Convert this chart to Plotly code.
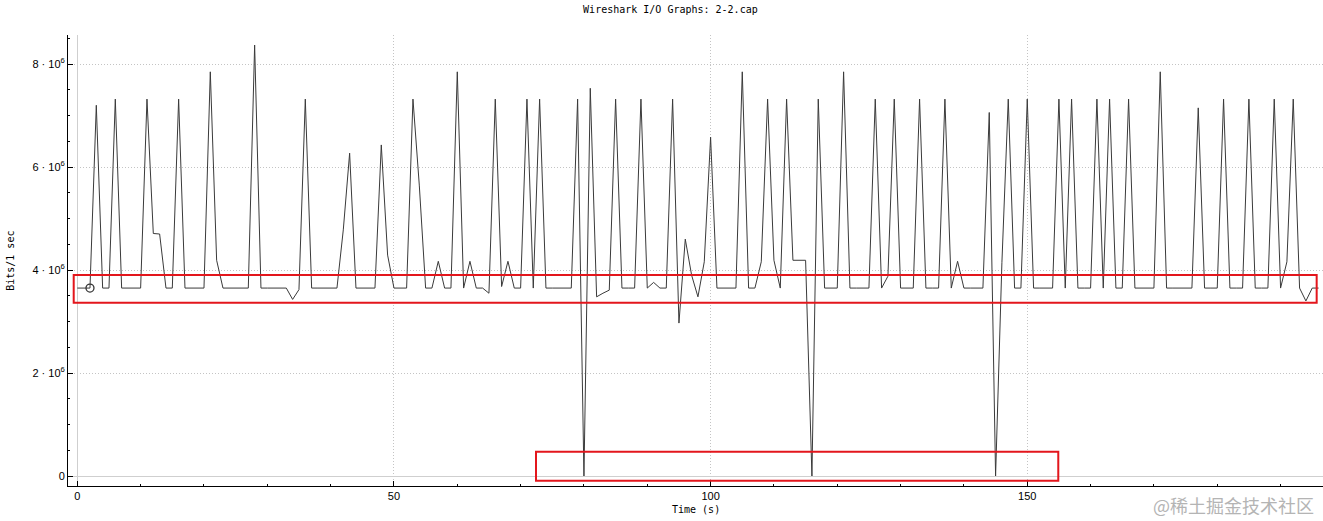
import plotly.graph_objects as go

# Bits per 1 s interval, in units of 10^6, one value per second starting at t=0
seconds = list(range(197))
bits_m = [
    3.65, 3.65, 3.65, 7.20, 3.65, 3.65, 7.32, 3.65, 3.65, 3.65,   # 0-9
    3.65, 7.32, 4.71, 4.70, 3.65, 3.65, 7.32, 3.65, 3.65, 3.65,   # 10-19
    3.65, 7.85, 4.19, 3.65, 3.65, 3.65, 3.65, 3.65, 8.37, 3.65,   # 20-29
    3.65, 3.65, 3.65, 3.65, 3.43, 3.62, 7.32, 3.65, 3.65, 3.65,   # 30-39
    3.65, 3.65, 4.78, 6.27, 3.65, 3.65, 3.65, 3.65, 6.43, 4.29,   # 40-49
    3.65, 3.65, 3.65, 7.32, 5.65, 3.65, 3.65, 4.17, 3.65, 3.65,   # 50-59
    7.85, 3.65, 4.17, 3.65, 3.65, 3.55, 7.32, 3.68, 4.17, 3.65,   # 60-69
    3.65, 7.32, 3.65, 7.32, 3.65, 3.65, 3.65, 3.65, 3.65, 7.32,   # 70-79
    0.00, 7.53, 3.48, 3.55, 3.61, 7.32, 3.65, 3.65, 3.65, 7.32,   # 80-89
    3.65, 3.76, 3.65, 3.65, 7.32, 2.97, 4.60, 3.90, 3.48, 4.16,   # 90-99
    6.58, 3.65, 3.65, 3.65, 3.65, 7.85, 3.65, 3.65, 4.16, 7.32,   # 100-109
    4.19, 3.65, 7.32, 4.19, 4.19, 4.19, 0.00, 7.32, 3.65, 3.65,   # 110-119
    3.65, 7.85, 3.65, 3.65, 3.65, 3.65, 7.32, 3.65, 3.88, 7.32,   # 120-129
    3.65, 3.65, 3.65, 7.32, 3.65, 3.65, 3.65, 7.32, 3.65, 4.17,   # 130-139
    3.65, 3.65, 3.65, 3.65, 7.06, 0.00, 4.15, 7.32, 3.65, 3.65,   # 140-149
    7.32, 3.65, 3.65, 3.65, 3.65, 7.32, 3.65, 7.32, 3.65, 3.65,   # 150-159
    3.65, 7.32, 3.65, 7.32, 3.65, 3.65, 7.32, 3.65, 3.65, 3.65,   # 160-169
    3.65, 7.85, 3.65, 3.65, 3.65, 3.65, 3.65, 7.15, 3.65, 3.65,   # 170-179
    3.65, 7.32, 3.65, 3.65, 3.65, 7.32, 3.65, 3.65, 3.65, 7.32,   # 180-189
    3.65, 4.16, 7.32, 3.65, 3.40, 3.65, 3.65,                     # 190-196
]

# selected point marker
marker_t = [2]
marker_v = [3.65]

ytick_vals = [0, 2, 4, 6, 8]
ytick_text = ['0', '2 · 10<sup>6</sup>', '4 · 10<sup>6</sup>',
              '6 · 10<sup>6</sup>', '8 · 10<sup>6</sup>']
xtick_vals = [0, 50, 100, 150]

mono = 'DejaVu Sans Mono'
red = '#e3161c'

fig = go.Figure()

fig.add_scatter(x=seconds, y=bits_m, mode='lines',
                line=dict(color='#3a3a3a', width=1),
                showlegend=False)

fig.add_scatter(x=marker_t, y=marker_v, mode='markers',
                marker=dict(symbol='circle-open', size=8, color='#333333',
                            line=dict(width=1.3)),
                showlegend=False)

fig.layout.width = 1323
fig.layout.height = 521
fig.layout.margin = dict(l=68, r=0, t=35, b=35, autoexpand=False)
fig.layout.paper_bgcolor = 'white'
fig.layout.plot_bgcolor = 'white'
fig.layout.font = dict(family='Liberation Sans', size=11, color='black')

fig.layout.title = dict(text='Wireshark I/O Graphs: 2-2.cap',
                        font=dict(family=mono, size=10, color='black'),
                        xref='paper', x=0.48, xanchor='center',
                        yref='container', y=1 - 9 / 521, yanchor='middle')

axis_common = dict(showline=True, linecolor='black', linewidth=1,
                   ticks='inside', ticklen=5, tickcolor='black',
                   showgrid=True, gridcolor='#c4c4c4', griddash='1px,2px',
                   zeroline=True, zerolinecolor='#cfcfcf', zerolinewidth=1,
                   automargin=False, fixedrange=True)

fig.update_xaxes(range=[-1.47, 196.7], tickmode='array', tickvals=xtick_vals,
                 minor=dict(tickmode='linear', tick0=0, dtick=10,
                            ticks='inside', ticklen=2, tickcolor='black',
                            showgrid=False),
                 **axis_common)

fig.update_yaxes(range=[-0.194, 8.565], tickmode='array', tickvals=ytick_vals,
                 ticktext=ytick_text,
                 minor=dict(tickmode='linear', tick0=0, dtick=0.5,
                            ticks='inside', ticklen=2, tickcolor='black',
                            showgrid=False),
                 **axis_common)

# axis titles
fig.add_annotation(text='Time (s)', xref='paper', yref='paper',
                   x=0.5, y=-0.053, xanchor='center', yanchor='middle',
                   showarrow=False, font=dict(family=mono, size=10))
fig.add_annotation(text='Bits/1 sec', xref='paper', yref='paper',
                   x=-0.046, y=0.5, xanchor='center', yanchor='middle',
                   textangle=-90, showarrow=False,
                   font=dict(family=mono, size=10))

# red highlight boxes
fig.add_shape(type='rect', xref='x', yref='y',
              x0=-0.57, x1=195.7, y0=3.365, y1=3.905,
              line=dict(color=red, width=2))
fig.add_shape(type='rect', xref='x', yref='y',
              x0=72.43, x1=154.9, y0=-0.09, y1=0.47,
              line=dict(color=red, width=2))

# watermark
fig.add_annotation(text='@稀土掘金技术社区', xref='paper', yref='paper',
                   x=0.9944, y=-0.042, xanchor='right', yanchor='middle',
                   showarrow=False,
                   font=dict(family='Noto Sans CJK SC', size=18,
                             color='#b4b4b4'))

# drop the browser's default page margin so the figure sits at (0, 0)
fig.write_html("out.html", config={'displayModeBar': False},
               post_script="document.body.style.margin = '0px';")
